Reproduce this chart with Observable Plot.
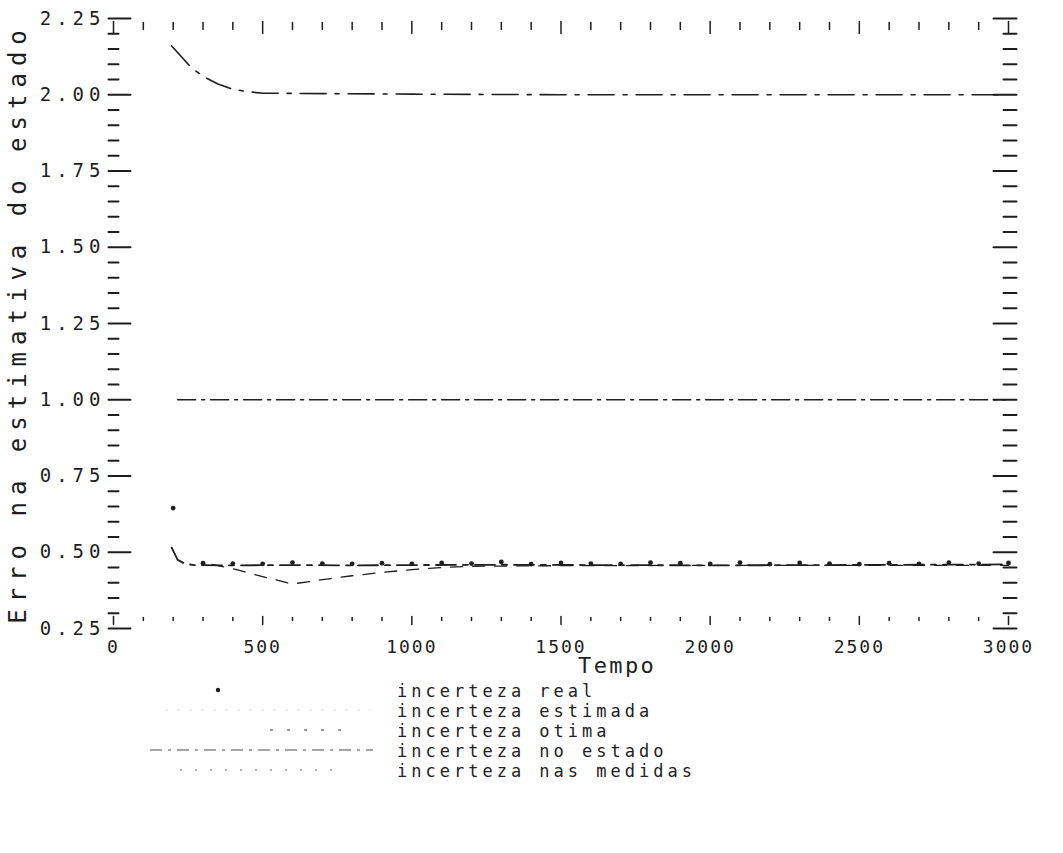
<!DOCTYPE html>
<html>
<head>
<meta charset="utf-8">
<script src="https://cdn.jsdelivr.net/npm/d3@7"></script>
<script src="https://cdn.jsdelivr.net/npm/@observablehq/plot@0.6"></script>
<style>
  body { margin: 0; background: #fff; }
  #wrap { position: relative; width: 1063px; height: 853px; font-family: "DejaVu Sans Mono", monospace; color: #222; overflow: hidden; }
  #chart svg { display: block; }
  #chart [aria-label="y-axis tick label"] text { font-size: 19px; letter-spacing: 5px; }
  #chart [aria-label="x-axis tick label"] text { letter-spacing: 2px; }
  #chart [aria-label="y-axis label"] text { font-size: 24px; letter-spacing: 7px; }
  .lab { position: absolute; white-space: pre; line-height: 20px; font-size: 17px; letter-spacing: 4px; }
  .sample { position: absolute; }
</style>
</head>
<body>
<div id="wrap">
  <div id="chart"></div>
</div>
<script>
// ---- Data ----
const xTicks = [0, 500, 1000, 1500, 2000, 2500, 3000];
const yTicks = [0.25, 0.50, 0.75, 1.00, 1.25, 1.50, 1.75, 2.00, 2.25];

// incerteza real (points)
const tReal = [200, 300, 400, 500, 600, 700, 800, 900, 1000, 1100, 1200, 1300, 1400, 1500, 1600, 1700, 1800, 1900, 2000, 2100, 2200, 2300, 2400, 2500, 2600, 2700, 2800, 2900, 3000];
const vReal = [0.645, 0.464, 0.463, 0.462, 0.466, 0.463, 0.462, 0.464, 0.462, 0.465, 0.463, 0.468, 0.461, 0.465, 0.463, 0.462, 0.466, 0.464, 0.462, 0.466, 0.461, 0.465, 0.463, 0.461, 0.464, 0.462, 0.466, 0.463, 0.465];

// incerteza estimada
const tEstimada = [195, 215, 240, 270, 400, 600, 800, 1000, 1300, 1600, 2000, 2400, 2700, 3000];
const vEstimada = [0.515, 0.475, 0.462, 0.458, 0.457, 0.458, 0.457, 0.458, 0.459, 0.458, 0.457, 0.458, 0.459, 0.460];

// incerteza otima
const tOtima = [330, 400, 500, 600, 700, 800, 900, 1000, 1100, 1200, 1500, 2000, 2500, 3000];
const vOtima = [0.460, 0.446, 0.420, 0.396, 0.410, 0.423, 0.434, 0.443, 0.450, 0.454, 0.456, 0.457, 0.457, 0.457];

// incerteza no estado
const tEstado = [195, 260, 300, 350, 400, 450, 500, 1000, 1500, 2000, 2500, 2990];
const vEstado = [2.160, 2.090, 2.060, 2.035, 2.018, 2.010, 2.005, 2.002, 2.000, 2.000, 2.000, 2.000];

// incerteza nas medidas
const tMedidas = [215, 500, 1000, 1500, 2000, 2500, 2990];
const vMedidas = [1.000, 1.000, 1.000, 1.000, 1.000, 1.000, 1.000];

const legendLabels = ["incerteza real", "incerteza estimada", "incerteza otima", "incerteza no estado", "incerteza nas medidas"];
const xLabel = "Tempo";
const yLabel = "Erro na estimativa do estado";

// ---- Build ----
const ink = "#1e1e1e";
const pts = (ts, vs) => ts.map((t, i) => ({t, v: vs[i]}));
const real = pts(tReal, vReal);
const estimada = pts(tEstimada, vEstimada);
const otima = pts(tOtima, vOtima);
const estado = pts(tEstado, vEstado);
const medidas = pts(tMedidas, vMedidas);

const xMinor = d3.range(0, 3001, 100).filter(d => d % 500 !== 0);
const yMinor = d3.range(25, 226, 5).map(d => d / 100).filter(d => !yTicks.some(m => Math.abs(m - d) < 1e-9));

const tickShape = {draw(ctx, l) { ctx.moveTo(0, 0); ctx.lineTo(0, -l); }};
const tk = (data, opts) => Plot.vector(data, {shape: tickShape, anchor: "start", stroke: ink, ...opts});

const chart = Plot.plot({
  width: 1063,
  height: 660,
  marginLeft: 113,
  marginRight: 55,
  marginTop: 18,
  marginBottom: 32,
  style: {fontFamily: '"DejaVu Sans Mono", monospace', fontSize: "18px", color: ink, background: "#fff", overflow: "visible"},
  x: {domain: [0, 3000]},
  y: {domain: [0.25, 2.25]},
  marks: [
    Plot.axisX({ticks: xTicks, tickSize: 0, tickPadding: 12, tickFormat: d => String(d), label: null}),
    Plot.axisY({ticks: yTicks, tickSize: 0, tickPadding: 8, tickFormat: d => d.toFixed(2), label: yLabel, labelAnchor: "center", labelOffset: 105, labelArrow: "none"}),
    // frame ticks (left / right / top / bottom)
    tk(yTicks, {y: d => d, frameAnchor: "left", rotate: 90, dx: -5, length: 22, strokeWidth: 2}),
    tk(yMinor, {y: d => d, frameAnchor: "left", rotate: 90, dx: -5, length: 10, strokeWidth: 2}),
    tk(yTicks, {y: d => d, frameAnchor: "right", rotate: -90, dx: 8, length: 23, strokeWidth: 2}),
    tk(yMinor, {y: d => d, frameAnchor: "right", rotate: -90, dx: 8, length: 13, strokeWidth: 2}),
    tk(xTicks, {x: d => d, frameAnchor: "top", rotate: 180, dy: 3, length: 12, strokeWidth: 1.5}),
    tk(xMinor, {x: d => d, frameAnchor: "top", rotate: 180, dy: 4, length: 7, strokeWidth: 1.5}),
    tk(xTicks, {x: d => d, frameAnchor: "bottom", rotate: 0, dy: -4, length: 8, strokeWidth: 1.5}),
    tk(xMinor, {x: d => d, frameAnchor: "bottom", rotate: 0, dy: -8, length: 3, strokeWidth: 1.5}),
    // series
    Plot.line(estado, {x: "t", y: "v", stroke: ink, strokeWidth: 1.6, strokeDasharray: "26,9,4,9"}),
    Plot.line(medidas, {x: "t", y: "v", stroke: ink, strokeWidth: 1.5, strokeDasharray: "18,6,3,6"}),
    Plot.line(estimada, {x: "t", y: "v", stroke: ink, strokeWidth: 1.8, strokeDasharray: "20,7,5,7"}),
    Plot.line(otima, {x: "t", y: "v", stroke: ink, strokeWidth: 1.3, strokeDasharray: "12,10"}),
    Plot.dot(real, {x: "t", y: "v", r: 2.4, fill: ink, stroke: "none"})
  ]
});
document.getElementById("chart").appendChild(chart);

// ---- X label and legend (below the chart) ----
const wrap = document.getElementById("wrap");
const xl = document.createElement("div");
xl.className = "lab";
xl.style.cssText = "left:578px;top:656px;font-size:22px;letter-spacing:2.4px;";
xl.textContent = xLabel;
wrap.appendChild(xl);

const sampleStyles = [
  {kind: "dot", cx: 73},
  {kind: "line", x1: 20, x2: 225, dash: "3,9", color: "#e2e2e2"},
  {kind: "line", x1: 125, x2: 200, dash: "3,14", color: "#777"},
  {kind: "line", x1: 5, x2: 228, dash: "12,6,3,6", color: "#888"},
  {kind: "line", x1: 35, x2: 195, dash: "2,13", color: "#999"}
];
const ns = "http://www.w3.org/2000/svg";
legendLabels.forEach((lab, i) => {
  const baseline = 696 + 20 * i;
  const s = document.createElementNS(ns, "svg");
  s.setAttribute("class", "sample");
  s.setAttribute("width", 240);
  s.setAttribute("height", 20);
  s.style.left = "145px";
  s.style.top = (baseline - 16) + "px";
  const st = sampleStyles[i];
  if (st.kind === "dot") {
    const c = document.createElementNS(ns, "circle");
    c.setAttribute("cx", st.cx); c.setAttribute("cy", 10); c.setAttribute("r", 2.2); c.setAttribute("fill", ink);
    s.appendChild(c);
  } else {
    const l = document.createElementNS(ns, "line");
    l.setAttribute("x1", st.x1); l.setAttribute("x2", st.x2); l.setAttribute("y1", 10); l.setAttribute("y2", 10);
    l.setAttribute("stroke", st.color); l.setAttribute("stroke-width", 1.5); l.setAttribute("stroke-dasharray", st.dash);
    s.appendChild(l);
  }
  wrap.appendChild(s);
  const t = document.createElement("div");
  t.className = "lab";
  t.style.left = "397px";
  t.style.top = (baseline - 15) + "px";
  t.textContent = lab;
  wrap.appendChild(t);
});
</script>
</body>
</html>
